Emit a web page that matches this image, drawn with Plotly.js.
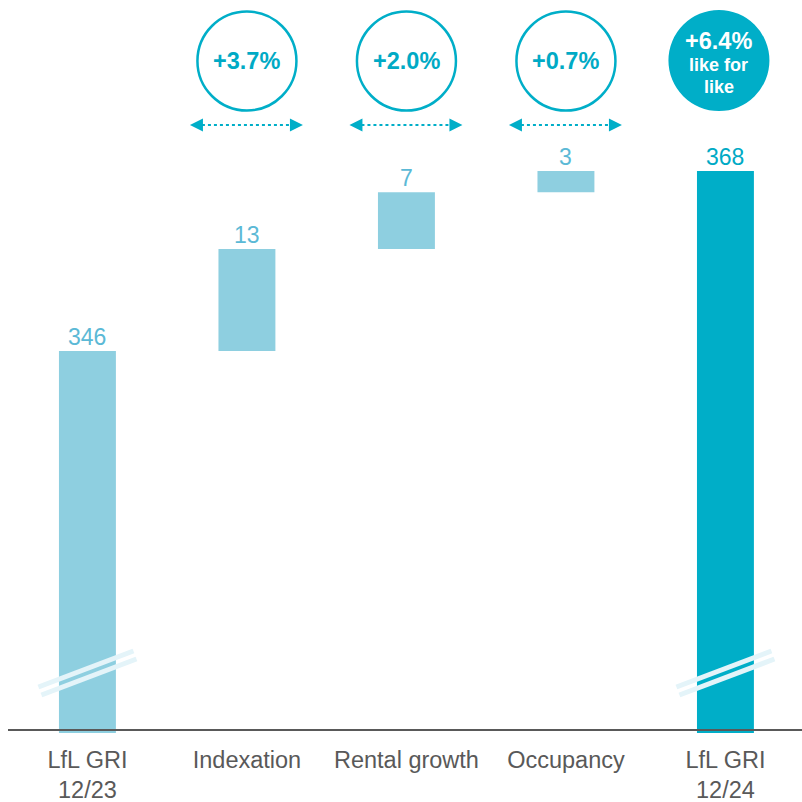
<!DOCTYPE html>
<html>
<head>
<meta charset="utf-8">
<script src="https://cdn.plot.ly/plotly-3.0.1.min.js"></script>
<style>html,body{margin:0;padding:0;background:#fff;}#chart{width:802px;height:802px;}</style>
</head>
<body>
<div id="chart"></div>
<script>
// ---- data ----
const categories = ['LfL GRI<br>12/23', 'Indexation', 'Rental growth', 'Occupancy', 'LfL GRI<br>12/24'];
const startValue = 345.8;               // LfL GRI 12/23 (label 346)
const steps = [12.6, 7.0, 2.6];         // Indexation, Rental growth, Occupancy (labels 13, 7, 3)
const endValue = 368.0;                 // LfL GRI 12/24 (label 368)
const valueLabels = ['346', '13', '7', '3', '368'];
const stepPct = ['+3.7%', '+2.0%', '+0.7%'];
const totalPct = ['+6.4%', 'like for', 'like'];
const axisFloor = 298.7;                // broken axis starts here

// ---- styles ----
const LIGHT = '#8ecfe0', DARK = '#00aec8', TEAL = '#00aac5', LABEL_LIGHT = '#5bb9d6', GREY = '#595959';
const FONT = 'Liberation Sans, Arial, sans-serif';

// build waterfall bars
const xs = categories.map((c, i) => i);
const bases = [], heights = [];
bases.push(axisFloor); heights.push(startValue - axisFloor);
let cum = startValue;
steps.forEach(s => { bases.push(cum); heights.push(s); cum += s; });
bases.push(axisFloor); heights.push(endValue - axisFloor);
const tops = bases.map((b, i) => b + heights[i]);
const colors = [LIGHT, LIGHT, LIGHT, LIGHT, DARK];

const trace = {
  type: 'bar', x: xs, y: heights, base: bases, width: 0.357,
  marker: {color: colors, line: {width: 0}}, hoverinfo: 'skip'
};

const annotations = [];
tops.forEach((t, i) => annotations.push({
  x: i, y: t, xref: 'x', yref: 'y', yanchor: 'bottom', showarrow: false, yshift: -1,
  text: valueLabels[i], font: {family: FONT, size: 23, color: i === 4 ? TEAL : LABEL_LIGHT}
}));
const shapes = [];
// circles + arrows for steps
stepPct.forEach((p, j) => {
  const i = j + 1;
  shapes.push({type: 'circle', xref: 'x', yref: 'paper', xsizemode: 'pixel', ysizemode: 'pixel',
    xanchor: i, yanchor: 1, x0: -49.5, x1: 49.5, y0: -110.5, y1: -11.5,
    line: {color: DARK, width: 2.5}, fillcolor: 'rgba(0,0,0,0)'});
  shapes.push({type: 'line', xref: 'x', yref: 'paper', xsizemode: 'pixel', ysizemode: 'pixel',
    xanchor: i, yanchor: 1, x0: -45, x1: 44, y0: -125, y1: -125,
    line: {color: DARK, width: 2, dash: 'dot'}});
  shapes.push({type: 'path', xref: 'x', yref: 'paper', xsizemode: 'pixel', ysizemode: 'pixel',
    xanchor: i, yanchor: 1, path: 'M -57 -125 L -44 -118.5 L -44 -131.5 Z',
    fillcolor: DARK, line: {width: 0}});
  shapes.push({type: 'path', xref: 'x', yref: 'paper', xsizemode: 'pixel', ysizemode: 'pixel',
    xanchor: i, yanchor: 1, path: 'M 56 -125 L 43 -118.5 L 43 -131.5 Z',
    fillcolor: DARK, line: {width: 0}});
  annotations.push({x: i, y: 1, xref: 'x', yref: 'paper', yanchor: 'middle', yshift: -61, showarrow: false,
    text: '<b>' + p + '</b>', font: {family: FONT, size: 23.5, color: TEAL}});
});
// filled total circle
shapes.push({type: 'circle', xref: 'x', yref: 'paper', xsizemode: 'pixel', ysizemode: 'pixel',
  xanchor: 4, yanchor: 1, x0: -57, x1: 44, y0: -111, y1: -10,
  line: {width: 0}, fillcolor: DARK});
annotations.push({x: 4, y: 1, xref: 'x', yref: 'paper', yanchor: 'middle', xshift: -6.5, yshift: -41, showarrow: false,
  text: '<b>' + totalPct[0] + '</b>', font: {family: FONT, size: 23.5, color: '#ffffff'}});
annotations.push({x: 4, y: 1, xref: 'x', yref: 'paper', yanchor: 'middle', xshift: -6.5, yshift: -65, showarrow: false,
  text: '<b>' + totalPct[1] + '</b>', font: {family: FONT, size: 18, color: '#ffffff'}});
annotations.push({x: 4, y: 1, xref: 'x', yref: 'paper', yanchor: 'middle', xshift: -6.5, yshift: -87, showarrow: false,
  text: '<b>' + totalPct[2] + '</b>', font: {family: FONT, size: 18, color: '#ffffff'}});
// axis break marks on first and last bar
[0, 4].forEach(i => {
  shapes.push({type: 'line', xref: 'x', yref: 'paper', xsizemode: 'pixel', ysizemode: 'pixel',
    xanchor: i, yanchor: 0, x0: -49, x1: 46, y0: 46, y1: 82, line: {color: '#e4f4f9', width: 5}});
  shapes.push({type: 'line', xref: 'x', yref: 'paper', xsizemode: 'pixel', ysizemode: 'pixel',
    xanchor: i, yanchor: 0, x0: -46, x1: 49, y0: 38, y1: 74, line: {color: '#e4f4f9', width: 5}});
});
// baseline
shapes.push({type: 'line', xref: 'paper', yref: 'paper', ysizemode: 'pixel', yanchor: 0,
  x0: 0, x1: 1, y0: 3, y1: 3, line: {color: GREY, width: 2}});

const layout = {
  width: 802, height: 802,
  margin: {l: 8, r: 0, t: 0, b: 69},
  paper_bgcolor: '#ffffff', plot_bgcolor: '#ffffff',
  showlegend: false,
  xaxis: {range: [-0.498, 4.48], tickvals: xs, ticktext: categories, showgrid: false, zeroline: false,
    showline: false, ticks: '', ticklabelstandoff: 10, tickfont: {family: FONT, size: 23.5, color: GREY}, fixedrange: true},
  yaxis: {range: [axisFloor, axisFloor + 733 / 8.108], visible: false, fixedrange: true},
  shapes: shapes, annotations: annotations
};
Plotly.newPlot('chart', [trace], layout, {displayModeBar: false, staticPlot: true});
</script>
</body>
</html>
